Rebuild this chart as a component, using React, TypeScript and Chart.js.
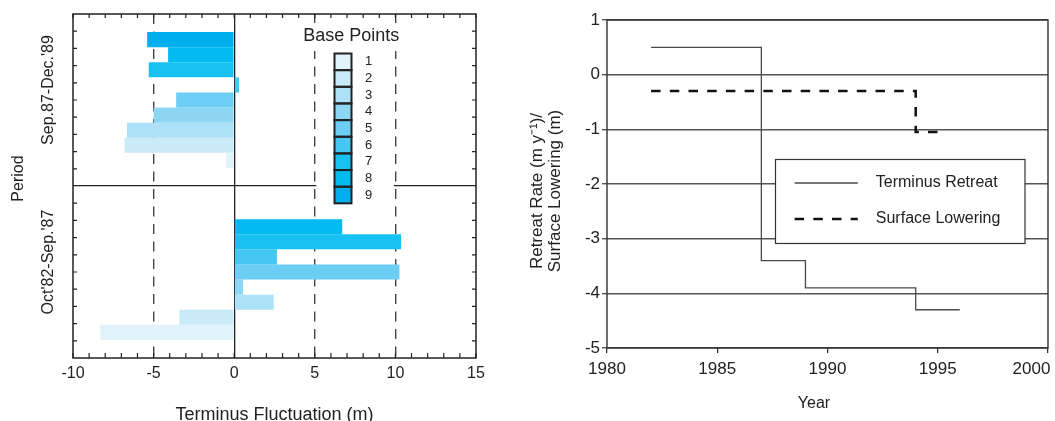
import React, { useEffect, useRef } from 'react';
import { Chart, registerables } from 'chart.js';

Chart.register(...registerables);

const FONT = "'Liberation Sans', Arial, Helvetica, sans-serif";
const TEXT = '#222';

// ---------- Left panel: terminus fluctuation per base point ----------
const periods = ["Sep.87-Dec.'89", "Oct'82-Sep.'87"];
const basePoints = ['1', '2', '3', '4', '5', '6', '7', '8', '9'];
const basePointColors = ['#E0F3FB', '#C9EBF9', '#ACE1F8', '#8DD7F5', '#6CCEF4', '#46C6F2', '#17C1F1', '#03BAF1', '#00AEEF'];
const bp1 = [-0.5, -8.3];
const bp2 = [-6.8, -3.4];
const bp3 = [-6.65, 2.45];
const bp4 = [-5.0, 0.55];
const bp5 = [-3.6, 10.25];
const bp6 = [0.3, 2.65];
const bp7 = [-5.3, 10.35];
const bp8 = [-4.1, 6.7];
const bp9 = [-5.4, null];
const fluctuationTicks = [-10, -5, 0, 5, 10, 15];

// ---------- Right panel: retreat rate / surface lowering ----------
const retreatYears = [1982, 1987, 1989, 1994, 1996];
const retreatRate = [0.5, -3.4, -3.9, -4.3, -4.3];
const loweringYears = [1982, 1994, 1995];
const surfaceLowering = [-0.3, -1.05, -1.05];
const yearTicks = [1980, 1985, 1990, 1995, 2000];
const rateTicks = [-5, -4, -3, -2, -1, 0, 1];

function rotText(ctx: any, text: string, x: number, y: number, font: string) {
  ctx.save();
  ctx.translate(x, y);
  ctx.rotate(-Math.PI / 2);
  ctx.font = font;
  ctx.fillStyle = TEXT;
  ctx.textAlign = 'center';
  ctx.textBaseline = 'middle';
  ctx.fillText(text, 0, 0);
  ctx.restore();
}

const leftDecor = {
  id: 'leftDecor',
  beforeDatasetsDraw(chart: any) {
    const { ctx, scales } = chart;
    const x = scales.x;
    const y = scales.y;
    const x5 = x.getPixelForValue(5);
    const x10 = x.getPixelForValue(10);
    const sep = y.getPixelForValue(0.5);
    ctx.save();
    ctx.fillStyle = '#fff';
    ctx.fillRect(x5 - 2, 23, x10 - x5 + 4, 28);
    ctx.fillRect(x5 + 1.5, sep - 2, x10 - x5 - 3, 4);
    ctx.restore();
  },
  afterDraw(chart: any) {
    const { ctx, chartArea, scales } = chart;
    const x = scales.x;
    const y = scales.y;
    const { left, right, top, bottom } = chartArea;
    ctx.save();
    // frame
    ctx.strokeStyle = '#222';
    ctx.lineWidth = 1.5;
    ctx.strokeRect(left, top, right - left, bottom - top);
    // inner ticks
    ctx.lineWidth = 1.2;
    ctx.beginPath();
    for (let v = x.min; v <= x.max; v++) {
      const px = x.getPixelForValue(v);
      ctx.moveTo(px, top);
      ctx.lineTo(px, top + 4);
      ctx.moveTo(px, bottom);
      ctx.lineTo(px, bottom - 5);
    }
    for (let k = 1; k < 20; k++) {
      if (k === 10) continue;
      const py = y.getPixelForValue(-0.5 + k * 0.1);
      ctx.moveTo(left, py);
      ctx.lineTo(left + 4, py);
      ctx.moveTo(right, py);
      ctx.lineTo(right - 4, py);
    }
    ctx.stroke();

    // category labels + axis titles
    periods.forEach((p, i) => {
      rotText(ctx, p, 48.5, y.getPixelForValue(i) - 10, `16px ${FONT}`);
    });
    rotText(ctx, 'Period', 19, 178.5, `16px ${FONT}`);
    ctx.font = `18px ${FONT}`;
    ctx.fillStyle = TEXT;
    ctx.textAlign = 'center';
    ctx.textBaseline = 'alphabetic';
    ctx.fillText('Terminus Fluctuation (m)', (left + right) / 2, 419.6);

    // legend
    ctx.fillText('Base Points', 351.3, 41);
    const bx = 334.5, by = 53.5, bw = 17, bh = 16.65;
    basePoints.forEach((_, i) => {
      ctx.fillStyle = basePointColors[i];
      ctx.fillRect(bx, by + i * bh, bw, bh);
    });
    ctx.strokeStyle = '#222';
    ctx.lineWidth = 2;
    basePoints.forEach((_, i) => {
      ctx.strokeRect(bx, by + i * bh, bw, bh);
    });
    ctx.font = `13px ${FONT}`;
    ctx.fillStyle = TEXT;
    ctx.textBaseline = 'middle';
    basePoints.forEach((lab, i) => {
      ctx.fillText(lab, 368.5, by + i * bh + bh / 2);
    });
    ctx.restore();
  },
};

const rightDecor = {
  id: 'rightDecor',
  afterDraw(chart: any) {
    const { ctx, chartArea } = chart;
    const { left, right, top, bottom } = chartArea;
    ctx.save();
    ctx.strokeStyle = '#333';
    ctx.lineWidth = 1.4;
    ctx.strokeRect(left, top, right - left, bottom - top);

    // legend
    const lx = 255.5, ly = 159.5, lw = 249.5, lh = 84;
    ctx.fillStyle = '#fff';
    ctx.fillRect(lx, ly, lw, lh);
    ctx.strokeStyle = '#333';
    ctx.lineWidth = 1.2;
    ctx.strokeRect(lx, ly, lw, lh);
    chart.data.datasets.forEach((ds: any, i: number) => {
      const yy = ly + 23.5 + i * 36;
      ctx.save();
      ctx.strokeStyle = ds.borderColor;
      ctx.lineWidth = ds.borderWidth;
      ctx.setLineDash(ds.borderDash || []);
      ctx.beginPath();
      ctx.moveTo(274.6, yy);
      ctx.lineTo(337.8, yy);
      ctx.stroke();
      ctx.restore();
      ctx.font = `16px ${FONT}`;
      ctx.fillStyle = TEXT;
      ctx.textAlign = 'left';
      ctx.textBaseline = 'middle';
      ctx.fillText(ds.label, 355.8, yy);
    });

    // axis titles
    rotText(ctx, 'Retreat Rate (m y\u207B\u00B9)/', 17.5, 191, `17px ${FONT}`);
    rotText(ctx, 'Surface Lowering (m)', 35, 191, `17px ${FONT}`);
    ctx.font = `16px ${FONT}`;
    ctx.fillStyle = TEXT;
    ctx.textAlign = 'center';
    ctx.textBaseline = 'alphabetic';
    ctx.fillText('Year', 294, 408);
    ctx.restore();
  },
};

export default function App() {
  const leftRef = useRef<HTMLCanvasElement>(null);
  const rightRef = useRef<HTMLCanvasElement>(null);

  useEffect(() => {
    const bpSeries = [bp1, bp2, bp3, bp4, bp5, bp6, bp7, bp8, bp9];
    const barSets = basePoints
      .map((bp, i) => ({
        label: bp,
        data: bpSeries[i],
        backgroundColor: basePointColors[i],
        borderWidth: 0,
        barPercentage: 1,
        categoryPercentage: 0.79,
      }))
      .reverse();

    const left = new Chart(leftRef.current as any, {
      type: 'bar',
      data: { labels: periods, datasets: barSets as any },
      options: {
        indexAxis: 'y',
        responsive: false,
        animation: false,
        layout: { padding: { top: 14, right: 44, left: 0, bottom: 0 } },
        plugins: { legend: { display: false }, tooltip: { enabled: false } },
        scales: {
          x: {
            type: 'linear',
            min: -10,
            max: 15,
            afterBuildTicks: (s: any) => {
              s.ticks = fluctuationTicks.map((v) => ({ value: v }));
            },
            afterFit: (s: any) => {
              s.height = 63;
              s.paddingLeft = 0;
              s.paddingRight = 0;
            },
            ticks: {
              font: { family: FONT, size: 16 },
              color: TEXT,
              padding: 6,
              maxRotation: 0,
              autoSkip: false,
              callback: (v: any) => String(v),
            },
            grid: {
              drawTicks: false,
              color: (c: any) =>
                c.tick && (c.tick.value === -10 || c.tick.value === 15)
                  ? 'rgba(0,0,0,0)'
                  : c.tick && c.tick.value === 0
                  ? '#222'
                  : '#444',
              lineWidth: (c: any) => (c.tick && c.tick.value === 0 ? 1.3 : 1.4),
            },
            border: {
              display: false,
              dash: (c: any) => (c.tick && c.tick.value !== 0 ? [10, 7.5] : []),
            },
          },
          y: {
            type: 'category',
            afterFit: (s: any) => {
              s.width = 73;
            },
            ticks: { display: false },
            grid: {
              offset: true,
              drawTicks: false,
              color: (c: any) => (c.index === 1 ? '#222' : 'rgba(0,0,0,0)'),
              lineWidth: 1.3,
            },
            border: { display: false },
          },
        },
      } as any,
      plugins: [leftDecor],
    });

    const right = new Chart(rightRef.current as any, {
      type: 'line',
      data: {
        datasets: [
          {
            label: 'Terminus Retreat',
            data: retreatYears.map((x, i) => ({ x, y: retreatRate[i] })),
            borderColor: '#4a4a4a',
            borderWidth: 1.3,
            stepped: 'before',
            pointRadius: 0,
            fill: false,
          },
          {
            label: 'Surface Lowering',
            data: loweringYears.map((x, i) => ({ x, y: surfaceLowering[i] })),
            borderColor: '#111',
            borderWidth: 2.5,
            borderDash: [9.5, 9.2],
            stepped: 'before',
            pointRadius: 0,
            fill: false,
          },
        ] as any,
      },
      options: {
        responsive: false,
        animation: false,
        layout: { padding: { top: 20, right: 7, left: 0, bottom: 0 } },
        plugins: { legend: { display: false }, tooltip: { enabled: false } },
        scales: {
          x: {
            type: 'linear',
            min: 1980,
            max: 2000,
            afterBuildTicks: (s: any) => {
              s.ticks = yearTicks.map((v) => ({ value: v }));
            },
            afterFit: (s: any) => {
              s.height = 73;
              s.paddingLeft = 0;
              s.paddingRight = 0;
            },
            ticks: {
              font: { family: FONT, size: 17 },
              color: TEXT,
              padding: 6,
              maxRotation: 0,
              autoSkip: false,
              callback: (v: any) =>
                v === yearTicks[yearTicks.length - 1]
                  ? String(v) + '\u00A0\u00A0\u00A0\u00A0\u00A0\u00A0\u00A0'
                  : String(v),
            },
            grid: { drawOnChartArea: false, drawTicks: true, tickLength: 5, color: '#333', lineWidth: 1.3 },
            border: { display: false },
          },
          y: {
            type: 'linear',
            min: -5,
            max: 1,
            afterBuildTicks: (s: any) => {
              s.ticks = rateTicks.map((v) => ({ value: v }));
            },
            afterFit: (s: any) => {
              s.width = 87;
            },
            ticks: {
              font: { family: FONT, size: 17 },
              color: TEXT,
              padding: 2,
              callback: (v: any) => String(v),
            },
            grid: { color: '#555', lineWidth: 1.4, tickLength: 5, drawTicks: true },
            border: { display: false },
          },
        },
      } as any,
      plugins: [rightDecor],
    });

    return () => {
      left.destroy();
      right.destroy();
    };
  }, []);

  return (
    <div
      style={{
        position: 'fixed',
        left: 0,
        top: 0,
        width: 1055,
        height: 421,
        overflow: 'hidden',
        background: '#fff',
      }}
    >
      <canvas
        ref={leftRef}
        width={520}
        height={421}
        style={{ position: 'absolute', left: 0, top: 0, width: 520, height: 421 }}
      />
      <canvas
        ref={rightRef}
        width={535}
        height={421}
        style={{ position: 'absolute', left: 520, top: 0, width: 535, height: 421 }}
      />
    </div>
  );
}
